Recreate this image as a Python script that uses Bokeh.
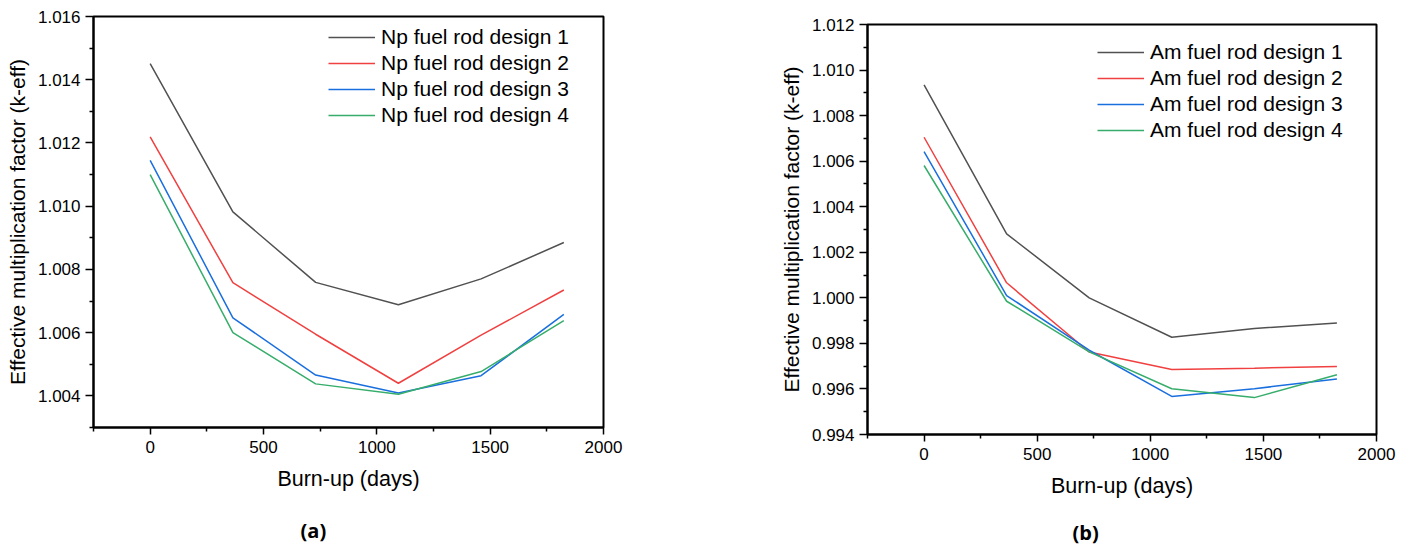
from bokeh.plotting import figure
from bokeh.layouts import row, column
from bokeh.models import FixedTicker, PrintfTickFormatter, Range1d, Legend, LegendItem, LinearAxis
from bokeh.embed import file_html
from bokeh.resources import INLINE

# ---- data ----
days = [0, 365, 730, 1095, 1460, 1825]

np_labels = ["Np fuel rod design 1", "Np fuel rod design 2", "Np fuel rod design 3", "Np fuel rod design 4"]
np_design1 = [1.01451, 1.00982, 1.00759, 1.00688, 1.00770, 1.00885]
np_design2 = [1.01219, 1.00758, 1.00595, 1.00440, 1.00592, 1.00735]
np_design3 = [1.01145, 1.00647, 1.00466, 1.00409, 1.00464, 1.00658]
np_design4 = [1.01100, 1.00600, 1.00438, 1.00405, 1.00477, 1.00638]

am_labels = ["Am fuel rod design 1", "Am fuel rod design 2", "Am fuel rod design 3", "Am fuel rod design 4"]
am_design1 = [1.00935, 1.00281, 1.00000, 0.99827, 0.99865, 0.99890]
am_design2 = [1.00705, 1.00066, 0.99762, 0.99685, 0.99691, 0.99699]
am_design3 = [1.00642, 1.00010, 0.99770, 0.99567, 0.99601, 0.99644]
am_design4 = [1.00581, 0.99985, 0.99763, 0.99601, 0.99562, 0.99662]

x_major = [0, 500, 1000, 1500, 2000]
x_minor = [-250, 250, 750, 1250, 1750]
np_y_major = [1.004, 1.006, 1.008, 1.010, 1.012, 1.014, 1.016]
np_y_minor = [1.003, 1.005, 1.007, 1.009, 1.011, 1.013, 1.015]
am_y_major = [0.994, 0.996, 0.998, 1.000, 1.002, 1.004, 1.006, 1.008, 1.010, 1.012]
am_y_minor = [0.995, 0.997, 0.999, 1.001, 1.003, 1.005, 1.007, 1.009, 1.011]

colors = ["#515151", "#F14040", "#1A6FDF", "#37AD6B"]
FONT = "Liberation Sans"


def make_panel(series, labels, yr, ymaj, ymin, width, bl, br, bt, bb, leg_loc, sub, sub_pos, sub_standoff):
    p = figure(width=width, height=548, output_backend="svg", toolbar_location=None, title=None,
               x_range=Range1d(-250, 2000), y_range=Range1d(*yr),
               min_border_left=bl, min_border_right=br, min_border_top=bt, min_border_bottom=bb)
    p.grid.visible = False
    p.outline_line_color = "black"
    p.outline_line_width = 2
    p.outline_line_alpha = 1
    p.background_fill_color = "white"
    p.border_fill_color = "white"

    xa = p.xaxis[0]
    ya = p.yaxis[0]
    xa.ticker = FixedTicker(ticks=x_major, minor_ticks=x_minor)
    ya.ticker = FixedTicker(ticks=ymaj, minor_ticks=ymin)
    ya.formatter = PrintfTickFormatter(format="%.3f")
    xa.axis_label = "Burn-up (days)"
    ya.axis_label = "Effective multiplication factor (k-eff)"
    for ax in (xa, ya):
        ax.axis_line_width = 2
        ax.axis_line_color = "black"
        ax.major_tick_in = 0
        ax.minor_tick_in = 0
        ax.major_tick_line_width = 1.5
        ax.minor_tick_line_width = 1.5
        ax.major_tick_line_color = "black"
        ax.minor_tick_line_color = "black"
        ax.major_label_text_font = FONT
        ax.major_label_text_font_size = "17px"
        ax.major_label_text_color = "black"
        ax.axis_label_text_font = FONT
        ax.axis_label_text_font_style = "normal"
        ax.axis_label_text_color = "black"
    xa.axis_label_text_font_size = "21.5px"
    ya.axis_label_text_font_size = "21px"
    xa.major_tick_out = 7
    xa.minor_tick_out = 4
    ya.major_tick_out = 8
    ya.minor_tick_out = 4
    xa.major_label_standoff = 6
    ya.major_label_standoff = 5
    xa.axis_label_standoff = 11
    ya.axis_label_standoff = 6

    items = []
    for vals, lab, c in zip(series, labels, colors):
        r = p.line(days, vals, line_color=c, line_width=1.5)
        items.append(LegendItem(label=lab, renderers=[r]))
    leg = Legend(items=items, location=leg_loc, border_line_color=None,
                 background_fill_alpha=0, padding=0, margin=0, spacing=0,
                 glyph_width=47, glyph_height=26, label_height=26, label_standoff=6,
                 label_text_font=FONT, label_text_font_size="21px", label_text_color="black")
    p.add_layout(leg)

    # panel caption "(a)" / "(b)" as the single label of a bare axis below the main one
    cap = LinearAxis(ticker=FixedTicker(ticks=[sub_pos], minor_ticks=[]),
                     major_label_overrides={sub_pos: sub},
                     axis_line_color=None, major_tick_line_color=None, minor_tick_line_color=None,
                     major_tick_out=0, minor_tick_out=0, major_tick_in=0, minor_tick_in=0,
                     major_label_standoff=sub_standoff,
                     major_label_text_font="Open Sans", major_label_text_font_size="20px",
                     major_label_text_font_style="bold", major_label_text_color="black")
    p.add_layout(cap, "below")
    return p


p1 = make_panel([np_design1, np_design2, np_design3, np_design4], np_labels,
                (1.003, 1.016), np_y_major, np_y_minor,
                740, 93, 137, 16, 121, (235, 299), "(a)", 720, 23)
p2 = make_panel([am_design1, am_design2, am_design3, am_design4], am_labels,
                (0.994, 1.012), am_y_major, am_y_minor,
                668, 127, 32, 24, 114, (230, 291), "(b)", 714, 18)

layout = row(column(p1), column(p2))
open("out.html", "w").write(file_html(layout, INLINE))
